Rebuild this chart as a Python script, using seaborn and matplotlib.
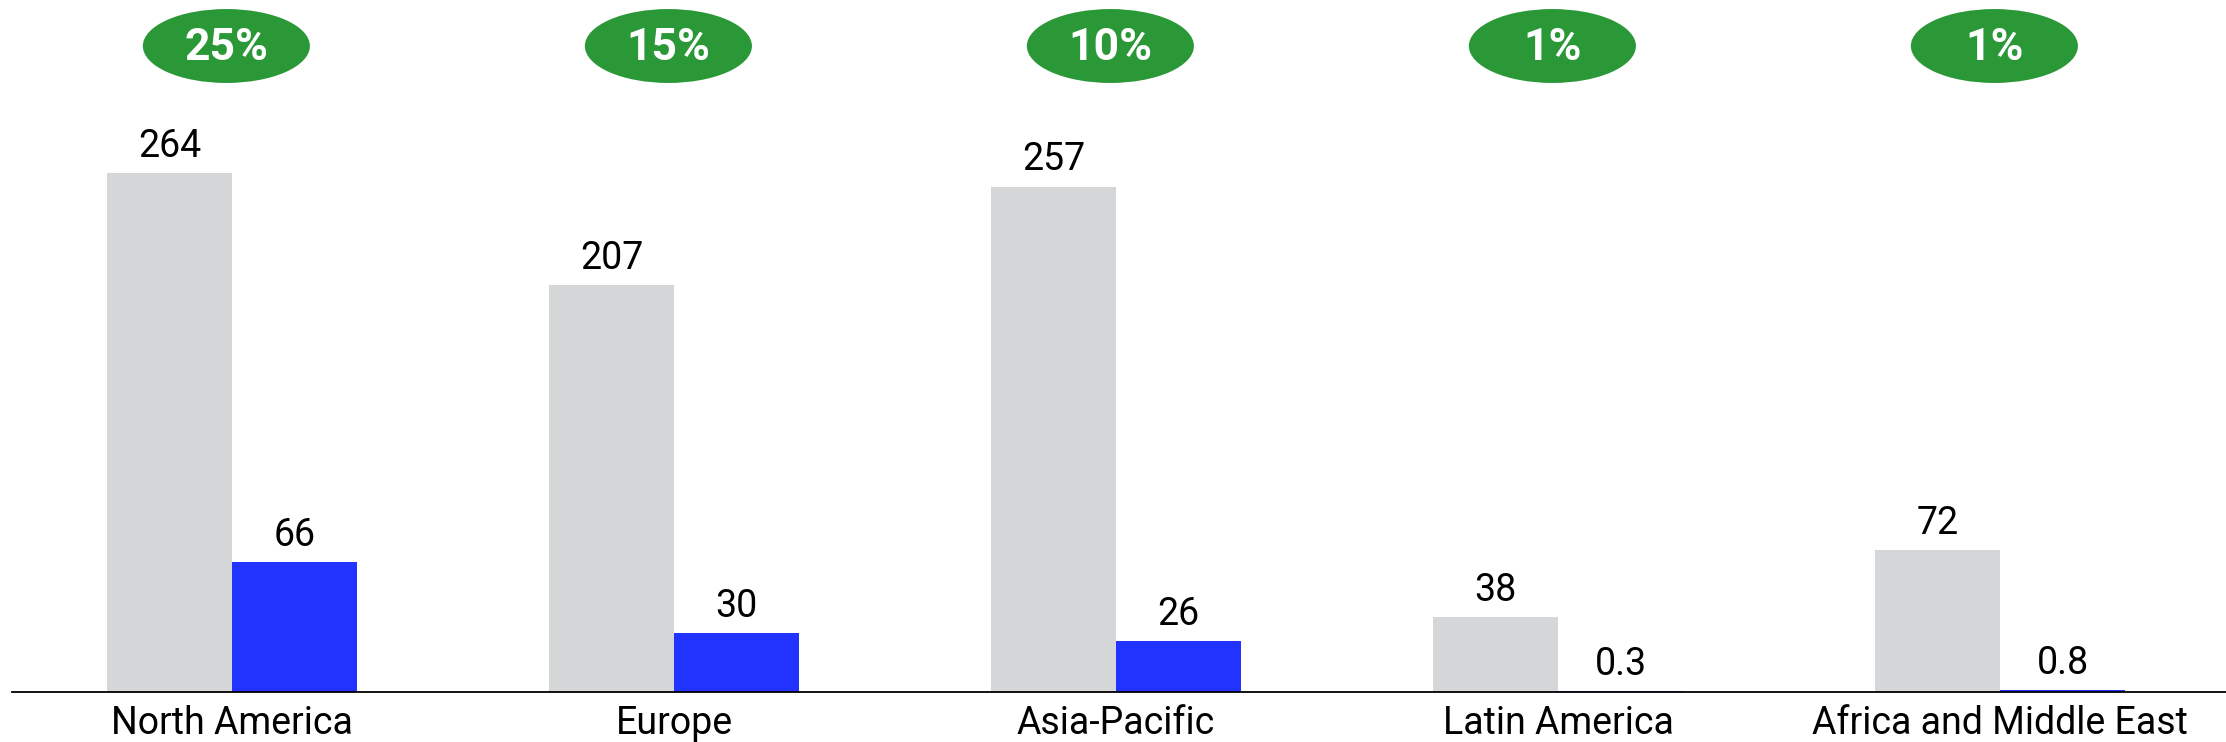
import matplotlib
matplotlib.use("Agg")
import matplotlib.pyplot as plt
from matplotlib.patches import Ellipse
import pandas as pd
import seaborn as sns

regions = ["North America", "Europe", "Asia-Pacific", "Latin America", "Africa and Middle East"]
total_values = [264, 207, 257, 38, 72]
share_values = [66, 30, 26, 0.3, 0.8]
share_pct = ["25%", "15%", "10%", "1%", "1%"]
series_names = ["Total", "Share"]

df = pd.DataFrame({
    "region": regions * 2,
    "series": [series_names[0]] * len(regions) + [series_names[1]] * len(regions),
    "value": total_values + share_values,
})

sns.set_theme(style="white")
plt.rcParams["font.family"] = ["Roboto", "DejaVu Sans"]

fig = plt.figure(figsize=(22.26, 7.42), dpi=100)
ax = fig.add_axes([12 / 2226, 50 / 742, 1 - 12 / 2226, 1 - 50 / 742])

palette = {"Total": "#D5D6D8", "Share": "#2233FF"}
sns.barplot(data=df, x="region", y="value", hue="series", order=regions,
            hue_order=series_names, palette=palette, width=0.566, gap=0,
            saturation=1, legend=False, linewidth=0, ax=ax)

for container, vals in zip(ax.containers, [total_values, share_values]):
    ax.bar_label(container, labels=[f"{v:g}" for v in vals], padding=6,
                 fontsize=27, color="black")

ax.set_xlim(-0.498, 4.511)
ax.set_ylim(0, 352)
ax.set_xlabel("")
ax.set_ylabel("")
ax.set_yticks([])
ax.tick_params(axis="x", length=0, pad=9, labelsize=27, labelcolor="black")

for s in ["top", "left", "right"]:
    ax.spines[s].set_visible(False)
ax.spines["bottom"].set_color("black")
ax.spines["bottom"].set_linewidth(1.3)

# green percentage badges above each region
for i, pct in enumerate(share_pct):
    ax.add_patch(Ellipse((i - 0.013, 328.6), width=0.378, height=37.6,
                         facecolor="#2A9837", edgecolor="none", clip_on=False))
    ax.text(i - 0.013, 327.5, pct, ha="center", va="center", color="white",
            fontsize=32, fontweight="bold", clip_on=False)

fig.savefig("out.png", dpi=100, facecolor="white")
